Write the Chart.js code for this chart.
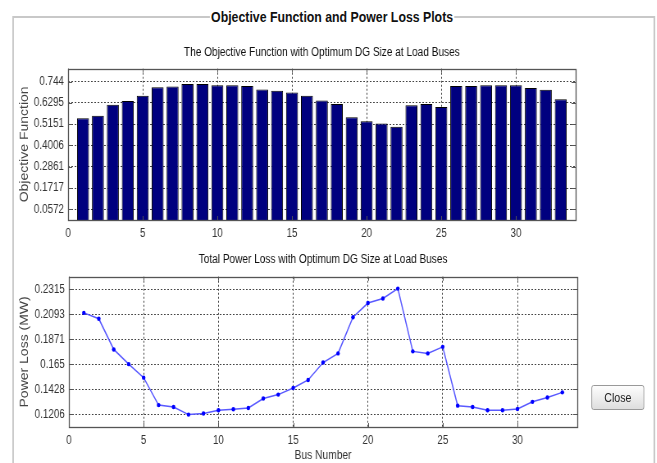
<!DOCTYPE html>
<html>
<head>
<meta charset="utf-8">
<script src="https://cdn.jsdelivr.net/npm/chart.js@4"></script>
<style>
  body { margin: 0; width: 657px; height: 463px; background: #fff; position: relative; overflow: hidden;
         font-family: 'Liberation Sans', Arial, sans-serif; }
  /* the original figure is a horizontally squeezed screenshot: draw at full width, then squeeze */
  #figure { position: absolute; left: 0; top: 0; width: 801px; height: 463px; transform: scaleX(0.82); transform-origin: 0 0; }
  #panel { position: absolute; left: 15px; top: 16px; width: 780px; height: 470px; border: 2px solid #c8c8c8; }
  #panelTitle { position: absolute; left: 0; width: 810px; top: 8px; text-align: center; font-weight: bold; font-size: 15px; color: #111; }
  #panelTitle span { background: #fff; padding: 0 1px; }
  canvas { position: absolute; left: 0; }
  #objChart { top: 0; }
  #lossChart { top: 240px; }
  #closeBtn { position: absolute; left: 721px; top: 385px; width: 65px; height: 25px; box-sizing: border-box;
              border: 1px solid #8e8e8e; border-radius: 3px; background: linear-gradient(#fdfdfd, #dedede);
              font-size: 13px; color: #222; text-align: center; line-height: 23px; }
</style>
</head>
<body>
<div id="figure">
  <div id="panel"></div>
  <div id="panelTitle"><span>Objective Function and Power Loss Plots</span></div>
  <canvas id="objChart" width="740" height="240"></canvas>
  <canvas id="lossChart" width="740" height="223"></canvas>
  <div id="closeBtn">Close</div>
</div>
<script>
const buses = [1, 2, 3, 4, 5, 6, 7, 8, 9, 10, 11, 12, 13, 14, 15, 16, 17,
               18, 19, 20, 21, 22, 23, 24, 25, 26, 27, 28, 29, 30, 31, 32, 33];
const objValues = [0.547, 0.560, 0.619, 0.640, 0.668, 0.713, 0.718, 0.731, 0.731, 0.725, 0.725,
                   0.720, 0.702, 0.695, 0.686, 0.668, 0.642, 0.624, 0.553, 0.531, 0.519, 0.501,
                   0.617, 0.624, 0.608, 0.720, 0.720, 0.725, 0.725, 0.725, 0.709, 0.700, 0.649];
const lossValues = [0.2106, 0.2054, 0.1782, 0.1652, 0.1532, 0.1289, 0.1272, 0.1205, 0.1214, 0.1243, 0.1252,
                    0.1263, 0.1347, 0.1382, 0.1440, 0.1512, 0.1666, 0.1747, 0.2067, 0.2193, 0.2234, 0.2321,
                    0.1765, 0.1747, 0.1805, 0.1284, 0.1272, 0.1243, 0.1243, 0.1254, 0.1318, 0.1356, 0.1402];
const objTicks = [0.0572, 0.1717, 0.2861, 0.4006, 0.5151, 0.6295, 0.744];
const lossTicks = [0.1206, 0.1428, 0.165, 0.1871, 0.2093, 0.2315];
const busTicks = [0, 5, 10, 15, 20, 25, 30];

Chart.defaults.font.family = "'Liberation Sans', Arial, sans-serif";
Chart.defaults.font.size = 12;
Chart.defaults.color = '#333';

// plot frame with small inward tick marks, like the original figure
const boxPlugin = {
  id: 'box',
  afterDraw(chart) {
    const { ctx, chartArea: a, scales } = chart;
    ctx.save();
    ctx.strokeStyle = '#555';
    ctx.lineWidth = 1;
    ctx.beginPath();
    scales.x.ticks.forEach(t => {
      const px = Math.round(scales.x.getPixelForValue(t.value)) + 0.5;
      ctx.moveTo(px, a.bottom); ctx.lineTo(px, a.bottom - 4);
      ctx.moveTo(px, a.top); ctx.lineTo(px, a.top + 4);
    });
    scales.y.ticks.forEach(t => {
      const py = Math.round(scales.y.getPixelForValue(t.value)) + 0.5;
      ctx.moveTo(a.left, py); ctx.lineTo(a.left + 5, py);
      ctx.moveTo(a.right, py); ctx.lineTo(a.right - 5, py);
    });
    ctx.stroke();
    ctx.lineWidth = 1.3;
    ctx.strokeRect(Math.round(a.left) + 0.5, Math.round(a.top) + 0.5, Math.round(a.width), Math.round(a.height));
    ctx.restore();
  }
};

function xAxis(height, title) {
  return {
    type: 'linear', min: 0, max: 34, offset: false,
    afterBuildTicks: s => { s.ticks = busTicks.map(v => ({ value: v })); },
    afterFit: s => { s.height = height; },
    ticks: { padding: 6, color: '#333', callback: v => String(v) },
    grid: { color: '#444', drawTicks: false, offset: false },
    border: { display: false, dash: [2, 2] },
    title: title ? { display: true, text: title, color: '#333', font: { size: 12.5 }, padding: { top: 0, bottom: 0 } } : { display: false }
  };
}

function yAxis(width, min, max, tickList, title) {
  return {
    type: 'linear', min: min, max: max,
    afterBuildTicks: s => { s.ticks = tickList.map(v => ({ value: v })); },
    afterFit: s => { s.width = width; },
    ticks: { padding: 5, color: '#333', callback: v => String(v) },
    grid: { color: '#444', drawTicks: false },
    border: { display: false, dash: [2, 2] },
    title: { display: true, text: title, color: '#444', font: { size: 14 }, padding: { top: 22, bottom: 0 } }
  };
}

new Chart(document.getElementById('objChart'), {
  type: 'bar',
  data: {
    datasets: [{
      data: buses.map((b, i) => ({ x: b, y: objValues[i] })),
      backgroundColor: '#00007f',
      borderColor: '#000',
      borderWidth: 1,
      barPercentage: 0.8,
      categoryPercentage: 1
    }]
  },
  options: {
    responsive: false,
    animation: false,
    layout: { padding: { left: 0, right: 38, top: 0, bottom: 0 } },
    plugins: {
      legend: { display: false },
      tooltip: { enabled: false },
      title: {
        display: true, fullSize: false, text: 'The Objective Function with Optimum DG Size at Load Buses',
        color: '#111', font: { size: 12.3, weight: 'normal' }, padding: { top: 45, bottom: 9 }
      }
    },
    scales: {
      x: xAxis(20, null),
      y: yAxis(83, 0, 0.813, objTicks, 'Objective Function')
    }
  },
  plugins: [boxPlugin]
});

new Chart(document.getElementById('lossChart'), {
  type: 'line',
  data: {
    datasets: [{
      data: buses.map((b, i) => ({ x: b, y: lossValues[i] })),
      borderColor: '#5a5aff',
      borderWidth: 1.5,
      pointRadius: 2.2,
      pointBackgroundColor: '#0000ff',
      pointBorderWidth: 0,
      tension: 0
    }]
  },
  options: {
    responsive: false,
    animation: false,
    layout: { padding: { left: 0, right: 36, top: 0, bottom: 0 } },
    plugins: {
      legend: { display: false },
      tooltip: { enabled: false },
      title: {
        display: true, fullSize: false, text: 'Total Power Loss with Optimum DG Size at Load Buses',
        color: '#111', font: { size: 12.3, weight: 'normal' }, padding: { top: 12, bottom: 10 }
      }
    },
    scales: {
      x: xAxis(36, 'Bus Number'),
      y: yAxis(84, 0.1095, 0.2426, lossTicks, 'Power Loss (MW)')
    }
  },
  plugins: [boxPlugin]
});
</script>
</body>
</html>
